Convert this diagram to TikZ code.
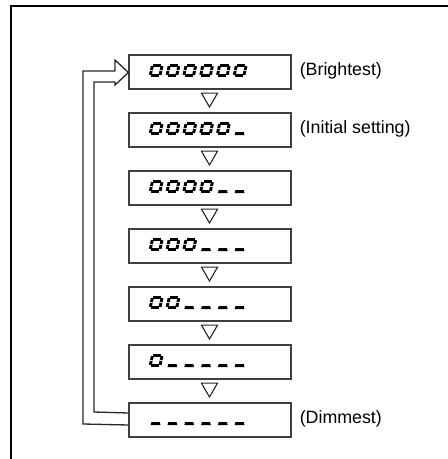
\documentclass[tikz,border=0pt]{standalone}
\usepackage{fontspec}
\setmainfont{Liberation Sans}
\usetikzlibrary{calc,shapes.geometric}
\tikzset{
  dispbox/.style={draw=black!75, line width=1.2pt, minimum width=162pt, minimum height=34pt, inner sep=0pt, fill=white},
  tri/.style={regular polygon, regular polygon sides=3, shape border rotate=180, draw=black!85, line width=1.1pt, minimum size=18.5pt, inner sep=0pt},
  lbl/.style={anchor=west, inner sep=0pt, font=\fontsize{17.8}{20}\selectfont},
  loopline/.style={draw=black!85, line width=1.3pt, line join=miter},
  seg/.style={line width=2.9pt, line cap=butt, black},
  pics/dzero/.style={code={
    \begin{scope}[y=1pt, xslant=0.22]
      \draw[seg] (2.1,11.6) -- (10.4,11.6);
      \draw[seg] (2.1,1.4) -- (10.4,1.4);
      \draw[seg] (1.4,2.1) -- (1.4,6.0);
      \draw[seg] (1.4,7.0) -- (1.4,10.9);
      \draw[seg] (11.1,2.1) -- (11.1,6.0);
      \draw[seg] (11.1,7.0) -- (11.1,10.9);
    \end{scope}}},
  pics/dunder/.style={code={
    \begin{scope}[y=1pt]
      \fill[black] (2.2,0) -- (12.0,0) -- (11.2,3.0) -- (3.0,3.0) -- cycle;
    \end{scope}}}
}
\begin{document}
\begin{tikzpicture}[x=1pt,y=-1pt]
\useasboundingbox (0,0) rectangle (448,459);
% outer frame
\draw[line width=2.2pt] (11,459) -- (11,6) -- (448,6);
% boxes
\foreach \i in {1,...,7} {
  \node[dispbox] (b\i) at (210,{72+58*(\i-1)}) {};
}
% triangles
\foreach \i in {1,...,6} {
  \node[tri] (t\i) at (209.5,{72+58*(\i-1)+25.8}) {};
}
% digits: row r has (7-r) zeros then (r-1) underscores
\foreach \r in {1,...,7} {
  \foreach \k in {1,...,6} {
    \pgfmathtruncatemacro{\nz}{7-\r}
    \ifnum\k>\nz
      \pic at ({148.5+16.8*(\k-1)},{72+58*(\r-1)+5}) {dunder};
    \else
      \pic at ({148.5+16.8*(\k-1)},{72+58*(\r-1)+5}) {dzero};
    \fi
  }
}
% labels
\node[lbl] (l1) at ($(b1.east)+(8,-1)$) {(Brightest)};
\node[lbl] (l2) at ($(b2.east)+(8,-1)$) {(Initial setting)};
\node[lbl] (l7) at ($(b7.east)+(8,-1)$) {(Dimmest)};
% return loop (hollow arrow)
\coordinate (s1) at ($(b7.west)+(0,5)$);
\coordinate (s2) at ($(b7.west)+(0,-7)$);
\draw[loopline] (s1) -- (83,424) -- (83,71) -- (115,71) -- (115,60)
  -- ($(b1.west)+(0,0.5)$) -- (115,85) -- (115,82) -- (94,82) -- (94,412) -- (s2);
\end{tikzpicture}
\end{document}
